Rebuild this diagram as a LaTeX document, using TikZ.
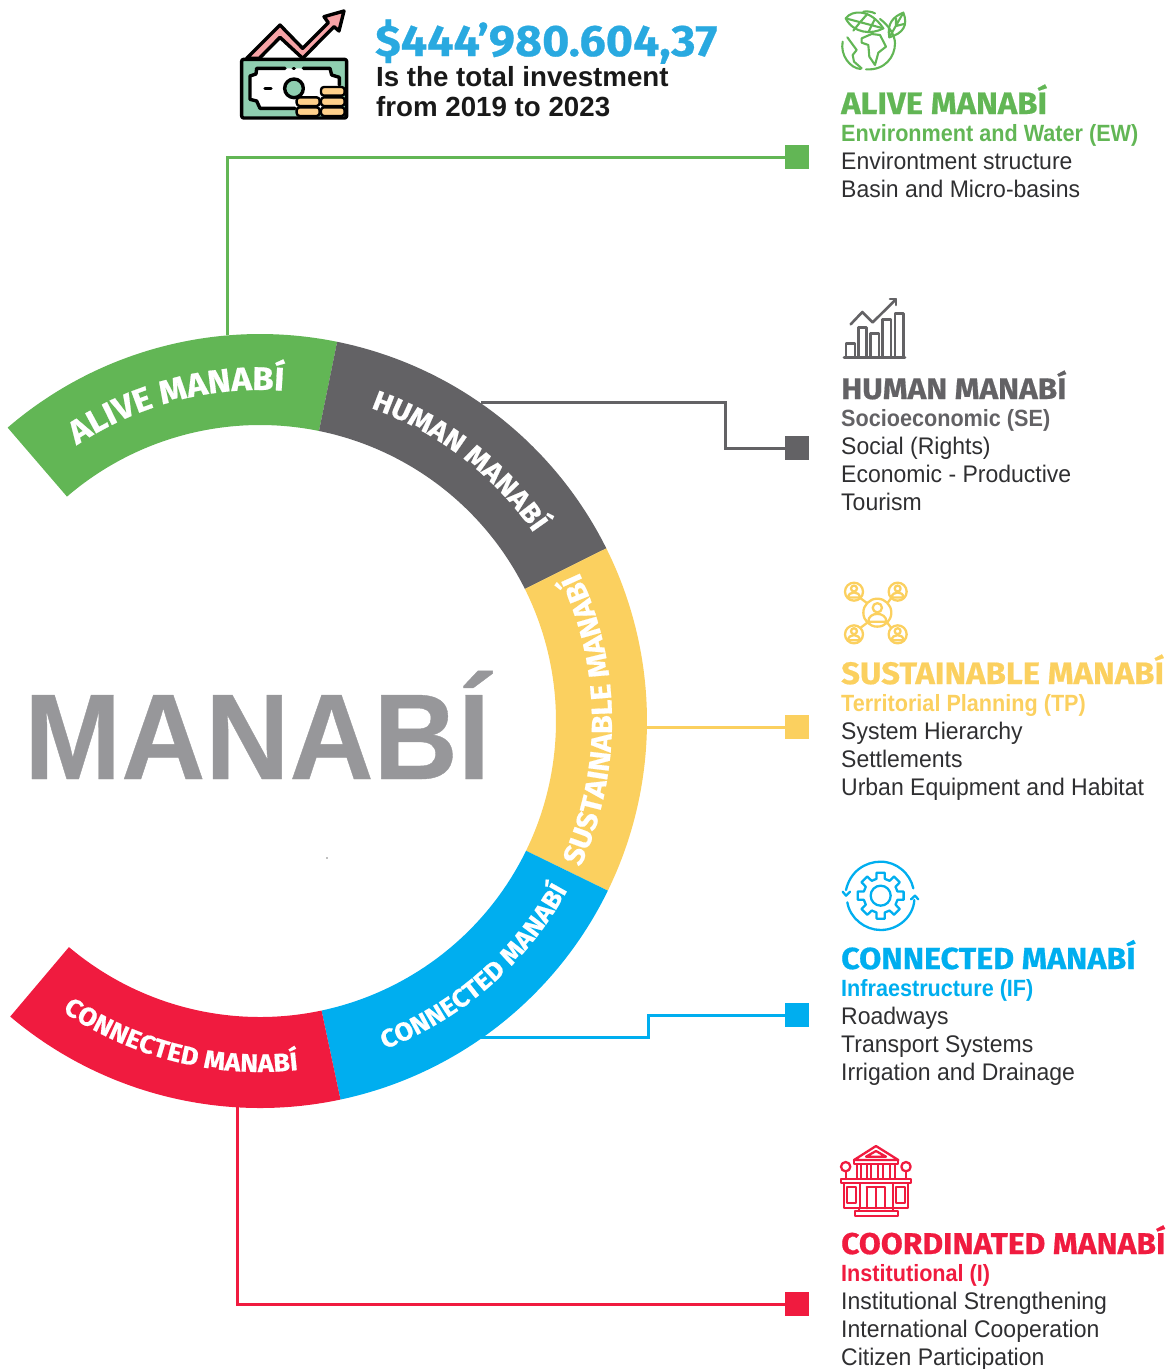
\documentclass[tikz,border=0pt]{standalone}
\usepackage{fontspec}
\usetikzlibrary{decorations.text}
\setmainfont{Liberation Sans}
\newfontfamily\headfont{Fira Sans}[FakeStretch=1.06,BoldFeatures={FakeBold=0.6}]
\newfontfamily\subfont{Liberation Sans}[FakeStretch=0.92]
\newfontfamily\itemfont{Liberation Sans}[FakeStretch=0.958]
\newfontfamily\bigfont{Liberation Sans}[FakeStretch=0.955,BoldFeatures={FakeBold=0.3}]
\definecolor{alivegreen}{HTML}{62B655}
\definecolor{humangray}{HTML}{636265}
\definecolor{sustyellow}{HTML}{FBD05F}
\definecolor{connblue}{HTML}{00AEEF}
\definecolor{coordred}{HTML}{F01B3F}
\definecolor{amountblue}{HTML}{29A9E0}
\definecolor{billgreen}{HTML}{8FCEB0}
\definecolor{arrowpink}{HTML}{F7A3A6}
\definecolor{coinorange}{HTML}{FFD08A}
\definecolor{bigtext}{HTML}{97979A}
\definecolor{itemtext}{HTML}{2F2F31}
\tikzstyle{square}=[minimum size=24pt,inner sep=0pt,outer sep=0pt]
\tikzstyle{link}=[draw,line width=3pt]
\tikzstyle{titlelabel}=[anchor=base west,inner sep=0pt]
\tikzstyle{sublabel}=[anchor=base west,inner sep=0pt,font=\subfont\bfseries\fontsize{23.5}{23.5}\selectfont]
\tikzstyle{itemlabel}=[anchor=base west,inner sep=0pt,font=\itemfont\fontsize{24}{24}\selectfont,text=itemtext]
\tikzstyle{headlabel}=[anchor=base west,inner sep=0pt,font=\bfseries\fontsize{27.7}{27.7}\selectfont,text=black!90]
\tikzstyle{zoomed}=[x=0.3333pt,y=-0.3333pt]
\tikzstyle{icon}=[line width=2.3pt,line join=round,line cap=round]
\newcommand{\ringout}{387pt}
\newcommand{\ringin}{296pt}
\begin{document}
\begin{tikzpicture}[x=1pt,y=-1pt]
    \useasboundingbox (0,0) rectangle (1173,1369);
    % First the ring and its lettering
    \coordinate (ctr) at (260,721);
    \foreach \clr/\start/\stop in {alivegreen/130.7/78.5, humangray/78.5/26.5, sustyellow/26.5/-26, connblue/-26/-78, coordred/-78/-130.2}
        \fill[\clr] (ctr) ++(\start:\ringout) arc[start angle=\start,end angle=\stop,radius=\ringout]
            -- ++(\stop:-91pt) arc[start angle=\stop,end angle=\start,radius=\ringin] -- cycle;
    \foreach \name/\start/\stop/\rad/\size in {ALIVE MANABÍ/131/78.5/331pt/32.8, HUMAN MANABÍ/78.5/26.5/332pt/27.6, SUSTAINABLE MANABÍ/-26/26.5/352pt/29, CONNECTED MANABÍ/-75/-23/351pt/25.4, CONNECTED MANABÍ/-130/-78/351pt/25.5}
        \path[decorate,decoration={text along path,text align=center,
            text={|\headfont\bfseries\fontsize{\size}{\size}\selectfont\color{white}|\name}}]
            (ctr) ++(\start:\rad) arc[start angle=\start,end angle=\stop,radius=\rad];
    \node[anchor=base west,inner sep=0pt,text=bigtext,font=\bigfont\bfseries\fontsize{122}{122}\selectfont] (manabi) at (24,779) {MANABÍ};
    \fill[black!50] (327,858) circle (0.8pt);
    % Connectors, from the ring to the squares
    \foreach \pos/\name/\clr in {{(797,157)/alivesq/alivegreen}, {(797,448)/humansq/humangray}, {(797,727)/sustsq/sustyellow}, {(797,1015)/connsq/connblue}, {(797,1304)/coordsq/coordred}}
        \node[square,fill=\clr] (\name) at \pos {};
    \coordinate (alivefoot) at (227,335);
    \coordinate (humanfoot) at (481,402);
    \coordinate (sustfoot) at (647,727);
    \coordinate (connfoot) at (481,1037);
    \coordinate (coordfoot) at (237,1106);
    \coordinate (humanbend) at (725,402);
    \coordinate (connbend) at (648,1037);
    \path[link,alivegreen] (alivefoot) |- (alivesq);
    \path[link,humangray] (humanfoot) -- (humanbend) |- (humansq);
    \path[link,sustyellow] (sustfoot) -- (sustsq);
    \path[link,connblue] (connfoot) -- (connbend) |- (connsq);
    \path[link,coordred] (coordfoot) |- (coordsq);
    % The amount at the top
    \node[anchor=base west,inner sep=0pt,text=amountblue,font=\headfont\bfseries\fontsize{44}{44}\selectfont] (amount) at (375,56) {\$444’980.604,37};
    \node[headlabel] (totalone) at (376,86) {Is the total investment};
    \node[headlabel] (totaltwo) at (376,116) {from 2019 to 2023};
    % Right column: titles, subtitles and items
    \foreach \y/\name/\txt/\clr/\size in {114/alivetitle/ALIVE MANABÍ/alivegreen/31, 399/humantitle/HUMAN MANABÍ/humangray/29.8, 684/susttitle/SUSTAINABLE MANABÍ/sustyellow/31, 969/conntitle/CONNECTED MANABÍ/connblue/30.4, 1254/coordtitle/COORDINATED MANABÍ/coordred/30}
        \node[titlelabel,text=\clr,font=\headfont\bfseries\fontsize{\size}{\size}\selectfont] (\name) at (841,\y) {\txt};
    \foreach \y/\name/\txt/\clr in {141/alivesub/Environment and Water (EW)/alivegreen, 426/humansub/Socioeconomic (SE)/humangray, 711/sustsub/Territorial Planning (TP)/sustyellow, 996/connsub/Infraestructure (IF)/connblue, 1281/coordsub/Institutional (I)/coordred}
        \node[sublabel,text=\clr] (\name) at (841,\y) {\txt};
    \foreach \y/\name/\txt in {169/itema/Environtment structure, 197/itemb/Basin and Micro-basins,
        454/itemc/Social (Rights), 482/itemd/Economic - Productive, 510/iteme/Tourism,
        739/itemf/System Hierarchy, 767/itemg/Settlements, 795/itemh/Urban Equipment and Habitat,
        1024/itemi/Roadways, 1052/itemj/Transport Systems, 1080/itemk/Irrigation and Drainage,
        1309/iteml/Institutional Strengthening, 1337/itemm/International Cooperation, 1365/itemn/Citizen Participation}
        \node[itemlabel] (\name) at (841,\y) {\txt};
    % Money icon
    \begin{scope}[shift={(220,0)},zoomed,line width=3.4pt,line join=round,line cap=round]
        \filldraw[fill=arrowpink] (80,175) -- (180,75) -- (248,145) -- (325,68) -- (312,50) -- (372,33) -- (357,93) -- (342,80) -- (248,175) -- (180,112) -- (118,175) -- cycle;
        \filldraw[fill=billgreen,rounded corners=2pt] (65,178) rectangle (380,354);
        \fill[white] (110,205) -- (330,205) -- (335,225) -- (358,232) -- (358,300) -- (300,325) -- (120,325) -- (110,303) -- (90,298) -- (90,228) -- (108,222) -- cycle;
        \draw (195,205) -- (110,205) -- (108,222) -- (90,228) -- (90,298) -- (110,303) -- (120,325) -- (225,325);
        \draw (250,205) -- (330,205) -- (335,225) -- (358,232) -- (358,255);
        \draw (220,205) -- (223,205);
        \draw (135,265) -- (153,265);
        \filldraw[fill=billgreen] (222,265) circle (28);
        \foreach \xa/\ya/\xb/\yb in {303/261/374/287, 303/292/374/318, 303/322/374/348, 230/292/299/318, 230/322/299/348}
            \filldraw[fill=coinorange,rounded corners=3pt,line width=2.4pt] (\xa,\ya) rectangle (\xb,\yb);
    \end{scope}
    % Globe icon
    \begin{scope}[shift={(830,0)},zoomed,icon,line width=2.1pt,alivegreen]
        \draw[fill=white] (47,55) .. controls (65,30) and (120,25) .. (160,85) .. controls (125,105) and (70,100) .. (47,55) -- cycle;
        \draw (47,55) -- (160,85) (90,67) -- (112,42) (90,67) -- (70,92) (125,76) -- (135,57) (125,76) -- (115,97);
        \draw (178,112) .. controls (170,70) and (190,50) .. (220,38) .. controls (235,75) and (220,100) .. (178,112) -- cycle;
        \draw (178,112) -- (220,38) (198,78) -- (198,55) (198,78) -- (222,72);
        \draw (38,125) .. controls (30,165) and (60,205) .. (92,207);
        \draw (108,208) .. controls (165,212) and (195,170) .. (195,130) .. controls (195,105) and (175,75) .. (150,57);
        \draw (100,35) .. controls (112,33) and (125,35) .. (135,40);
        \draw (52,112) -- (80,150) -- (68,165) -- (72,185) -- (95,205);
        \draw (95,115) -- (125,102) -- (150,105) -- (168,140) -- (145,158) -- (135,195) -- (118,170) -- (115,135) -- (95,128) -- cycle;
    \end{scope}
    % Chart icon
    \begin{scope}[shift={(830,290)},zoomed,icon,line width=2.6pt,humangray]
        \foreach \xa/\ya/\xb in {48/160/75, 85/112/110, 122/130/147, 158/88/183, 195/70/220}
            \draw (\xa,203) -- (\xa,\ya) -- (\xb,\ya) -- (\xb,203);
        \draw (42,203) -- (225,203);
        \draw (62,103) -- (97,66) -- (128,97) -- (198,28);
        \draw (180,27) -- (198,27) -- (198,45);
    \end{scope}
    % Network icon
    \begin{scope}[shift={(830,575)},zoomed,icon,sustyellow]
        \draw (92,70) -- (112,85) (183,70) -- (172,85) (92,158) -- (112,143) (183,158) -- (172,143);
        \foreach \cx/\cy/\rad in {142/113/42, 72/50/27, 203/50/27, 72/178/27, 203/178/27}{
            \draw (\cx,\cy) circle (\rad);
            \draw (\cx,\cy-0.35*\rad) circle (0.33*\rad);
            \draw (\cx-0.65*\rad,\cy+0.65*\rad) .. controls (\cx-0.65*\rad,\cy-0.1*\rad) and (\cx+0.65*\rad,\cy-0.1*\rad) .. (\cx+0.65*\rad,\cy+0.65*\rad) -- cycle;
        }
    \end{scope}
    % Gear icon
    \begin{scope}[shift={(830,855)},zoomed,icon,connblue]
        \draw (48,105) .. controls (60,50) and (105,20) .. (152,20) .. controls (200,20) and (240,55) .. (250,100);
        \draw (52,142) .. controls (60,190) and (105,225) .. (152,225) .. controls (205,225) and (250,185) .. (253,135);
        \draw (38,110) -- (48,122) -- (60,110);
        \draw (243,133) -- (255,122) -- (265,133);
        \begin{scope}[shift={(152,122)}]
            \draw (0,0) circle (30);
            \draw (-14:52) \foreach \a in {0,45,...,315}{ -- (\a-14:52) -- (\a-10:70) -- (\a+10:70) -- (\a+14:52)} -- cycle;
        \end{scope}
    \end{scope}
    % Building icon
    \begin{scope}[shift={(830,1140)},zoomed,icon,coordred]
        \draw (72,60) -- (138,18) -- (205,60) -- cycle;
        \draw (108,50) -- (138,33) -- (168,50) -- cycle;
        \draw (72,60) rectangle (205,72);
        \foreach \x in {80,110,145,180}
            \draw (\x,72) rectangle (\x+14,117);
        \draw (47,94) -- (47,117) (228,94) -- (228,117);
        \draw (47,80) circle (14) (228,80) circle (14);
        \draw (33,117) rectangle (243,130);
        \draw (42,130) -- (42,205) -- (88,205) (235,130) -- (235,205) -- (190,205);
        \draw (52,142) rectangle (78,188);
        \draw (197,142) rectangle (225,188);
        \draw (90,130) -- (90,205) (188,130) -- (188,205);
        \draw (110,142) -- (165,142) -- (165,205) (110,142) -- (110,205) (138,142) -- (138,205);
        \draw (88,205) rectangle (190,213);
        \draw (75,213) rectangle (203,228);
    \end{scope}
\end{tikzpicture}
\end{document}
